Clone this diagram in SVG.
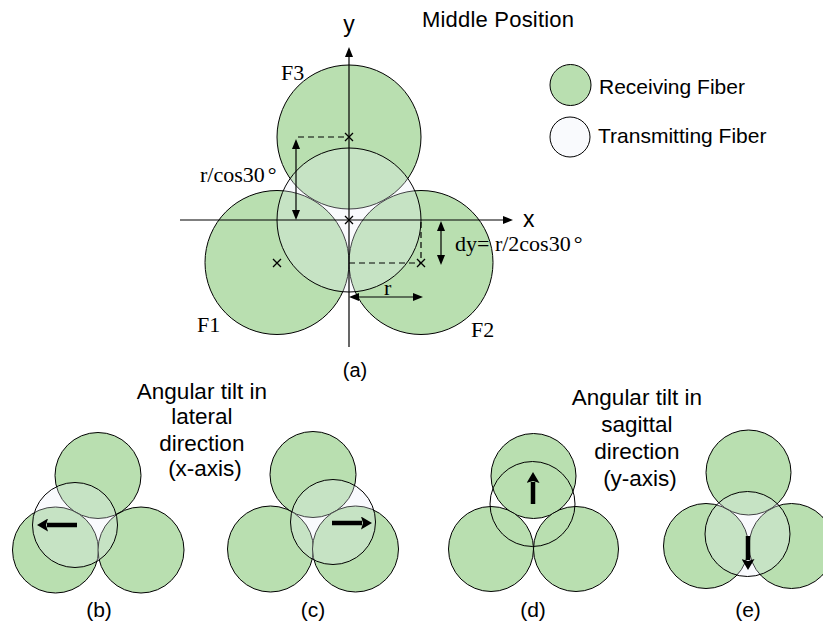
<svg xmlns="http://www.w3.org/2000/svg" width="823" height="630" viewBox="0 0 823 630">
<style>
.rx{fill:#b9dfb0;stroke:#000;stroke-width:1}
.tx{fill:#e8eef8;fill-opacity:0.28;stroke:#000;stroke-width:1}
.tn{fill:none;stroke:#000;stroke-width:1}
.ln{stroke:#000;stroke-width:1.2;fill:none}
.ds{stroke:#000;stroke-width:1.2;fill:none;stroke-dasharray:6 4}
.ck{stroke:#000;stroke-width:1.3;fill:none}
.thick{stroke:#000;stroke-width:4.5;fill:none}
.sans{font-family:"Liberation Sans",Arial,sans-serif;fill:#000}
.serif{font-family:"Liberation Serif","Times New Roman",serif;fill:#000;font-size:22px}
</style>
<defs>
<marker id="ah" viewBox="0 0 10 8" refX="0" refY="4" markerWidth="10" markerHeight="8" markerUnits="userSpaceOnUse" orient="auto-start-reverse">
<path d="M0,0 L10,4 L0,8 z" fill="#000"/>
</marker>
<marker id="bh" viewBox="0 0 11 13" refX="1" refY="6.5" markerWidth="11" markerHeight="13" markerUnits="userSpaceOnUse" orient="auto">
<path d="M0,0 L11,6.5 L0,13 L2,6.5 z" fill="#000"/>
</marker>
</defs>
<rect width="823" height="630" fill="#fff"/>

<!-- (a) main figure -->
<g id="F3"><circle class="rx" cx="349" cy="137" r="72"/><text class="serif" x="281" y="80">F3</text></g>
<g id="F1"><circle class="rx" cx="277" cy="262.5" r="72"/><text class="serif" x="197" y="332">F1</text></g>
<g id="F2"><circle class="rx" cx="421" cy="262.5" r="72"/><text class="serif" x="471" y="337">F2</text></g>
<g id="transmitting"><circle class="tx" cx="349" cy="220" r="72"/></g>

<g id="labels-a">
<text class="sans" x="349" y="32" font-size="23" text-anchor="middle">y</text>
<text class="sans" x="523" y="227" font-size="23">x</text>
<text class="sans" x="422" y="27" font-size="22" letter-spacing="0.2">Middle Position</text>
<text class="serif" x="200" y="182">r/cos30<tspan dx="3">°</tspan></text>
<text class="serif" x="455" y="251">dy= r/2cos30<tspan dx="3">°</tspan></text>
<text class="serif" x="384" y="295">r</text>
<text class="sans" x="355" y="377" font-size="20" text-anchor="middle">(a)</text>
</g>

<g id="legend-receiving"><circle class="rx" cx="570.5" cy="85" r="20.5"/><text class="sans" x="599" y="94" font-size="21">Receiving Fiber</text></g>
<g id="legend-transmitting"><circle class="tx" cx="570" cy="137" r="20"/><text class="sans" x="598" y="143" font-size="21">Transmitting Fiber</text></g>

<!-- (b) -->
<g id="fig-b">
<circle class="rx" cx="98" cy="475.5" r="43"/>
<circle class="rx" cx="55.5" cy="550" r="43"/>
<circle class="rx" cx="141" cy="550" r="43"/>
<circle class="tx" cx="75" cy="525" r="42.5"/>
<text class="sans" x="99" y="617" font-size="21" text-anchor="middle">(b)</text>
</g>
<!-- (c) -->
<g id="fig-c">
<circle class="rx" cx="313" cy="474.5" r="43"/>
<circle class="rx" cx="270.5" cy="549" r="43"/>
<circle class="rx" cx="355.5" cy="549" r="43"/>
<circle class="tx" cx="333" cy="522" r="42.5"/>
<text class="sans" x="313" y="617" font-size="21" text-anchor="middle">(c)</text>
</g>
<!-- (d) -->
<g id="fig-d">
<circle class="rx" cx="533.5" cy="476" r="42.5"/>
<circle class="rx" cx="491" cy="549" r="42.5"/>
<circle class="rx" cx="576" cy="549" r="42.5"/>
<circle class="tn" cx="532.5" cy="504" r="42.5"/>
<text class="sans" x="533" y="617" font-size="21" text-anchor="middle">(d)</text>
</g>
<!-- (e) -->
<g id="fig-e">
<circle class="rx" cx="748.5" cy="472.5" r="42.5"/>
<circle class="rx" cx="706" cy="546" r="42.5"/>
<circle class="rx" cx="791.5" cy="546" r="42.5"/>
<circle class="tx" cx="747.5" cy="534" r="42.5"/>
<text class="sans" x="748" y="617" font-size="21" text-anchor="middle">(e)</text>
</g>

<g id="captions">
<text class="sans" font-size="22.5" text-anchor="middle">
<tspan x="205" y="399">Angular tilt in</tspan>
<tspan x="205" y="424">lateral</tspan>
<tspan x="205" y="451">direction</tspan>
<tspan x="205" y="476">(x-axis)</tspan>
</text>
<text class="sans" font-size="22.5" text-anchor="middle">
<tspan x="640" y="405">Angular tilt in</tspan>
<tspan x="640" y="432">sagittal</tspan>
<tspan x="640" y="459">direction</tspan>
<tspan x="640" y="486">(y-axis)</tspan>
</text>
</g>

<g id="connectors">
<!-- axes -->
<line class="ln" x1="349" y1="347" x2="349" y2="57" marker-end="url(#ah)"/>
<line class="ln" x1="180" y1="220" x2="503" y2="220" marker-end="url(#ah)"/>
<!-- dashed guides -->
<line class="ds" x1="298" y1="137" x2="349" y2="137"/>
<line class="ds" x1="349" y1="263" x2="421" y2="263"/>
<line class="ds" x1="421" y1="222" x2="421" y2="263"/>
<!-- dimension arrows -->
<line class="ln" x1="296" y1="149" x2="296" y2="210" marker-start="url(#ah)" marker-end="url(#ah)"/>
<line class="ln" x1="441" y1="231" x2="441" y2="255" marker-start="url(#ah)" marker-end="url(#ah)"/>
<line class="ln" x1="359" y1="297" x2="413" y2="297" marker-start="url(#ah)" marker-end="url(#ah)"/>
<!-- centre crosses -->
<path class="ck" d="M345,133 L353,141 M353,133 L345,141"/>
<path class="ck" d="M345,216 L353,224 M353,216 L345,224"/>
<path class="ck" d="M273,259 L281,267 M281,259 L273,267"/>
<path class="ck" d="M417,259 L425,267 M425,259 L417,267"/>
<!-- tilt arrows -->
<line class="thick" x1="77" y1="525" x2="47" y2="525" marker-end="url(#bh)"/>
<line class="thick" x1="332" y1="523" x2="362" y2="523" marker-end="url(#bh)"/>
<line class="thick" x1="533" y1="504" x2="533" y2="482" marker-end="url(#bh)"/>
<line class="thick" x1="748" y1="536" x2="748" y2="560" marker-end="url(#bh)"/>
</g>
</svg>
